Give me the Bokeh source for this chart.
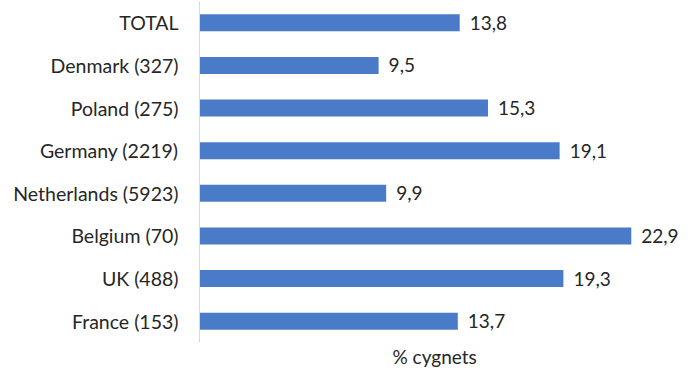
from bokeh.plotting import figure
from bokeh.models import FactorRange, Range1d, ColumnDataSource, LabelSet, Title
from bokeh.core.properties import value
from bokeh.embed import file_html
from bokeh.resources import INLINE

# Share of cygnets per country (sample size in brackets)
countries = ["TOTAL", "Denmark (327)", "Poland (275)", "Germany (2219)",
             "Netherlands (5923)", "Belgium (70)", "UK (488)", "France (153)"]
pct_cygnets = [13.8, 9.5, 15.3, 19.1, 9.9, 22.9, 19.3, 13.7]
value_labels = [f"{v:.1f}".replace(".", ",") for v in pct_cygnets]

FONT = "Lato"
TEXT_COLOR = "#262626"
BAR_COLOR = "#4a7bc8"

source = ColumnDataSource(dict(country=countries, pct=pct_cygnets, label=value_labels))

p = figure(
    width=693, height=371,
    y_range=FactorRange(factors=countries[::-1], range_padding=0, factor_padding=0),
    x_range=Range1d(0, 26.2),
    output_backend="svg", toolbar_location=None,
    min_border_left=199, min_border_right=0, min_border_top=1, min_border_bottom=29,
)
p.outline_line_color = None
p.grid.grid_line_color = None
p.background_fill_color = "white"
p.border_fill_color = "white"

p.hbar(y="country", right="pct", left=0, height=0.4, source=source,
       fill_color=BAR_COLOR, line_color=None)

labels = LabelSet(x="pct", y="country", text="label", source=source,
                  x_offset=10, text_baseline="middle", text_align="left",
                  text_font=value(FONT), text_font_size="19px", text_color=TEXT_COLOR)
p.add_layout(labels)

# category axis: thin grey line, no ticks
yax = p.yaxis[0]
yax.axis_line_color = "#d9d9d9"
yax.axis_line_width = 1
yax.major_tick_line_color = None
yax.minor_tick_line_color = None
yax.major_tick_out = 0
yax.major_label_standoff = 21
yax.major_label_text_font = FONT
yax.major_label_text_font_size = "19.5px"
yax.major_label_text_color = TEXT_COLOR

# value axis is hidden; its title sits under the bars
p.xaxis.visible = False
p.add_layout(Title(text="% cygnets", align="left", offset=193, standoff=0,
                   text_font=FONT, text_font_size="19px", text_font_style="normal",
                   text_color=TEXT_COLOR), "below")

open("out.html", "w").write(file_html(p, INLINE))
